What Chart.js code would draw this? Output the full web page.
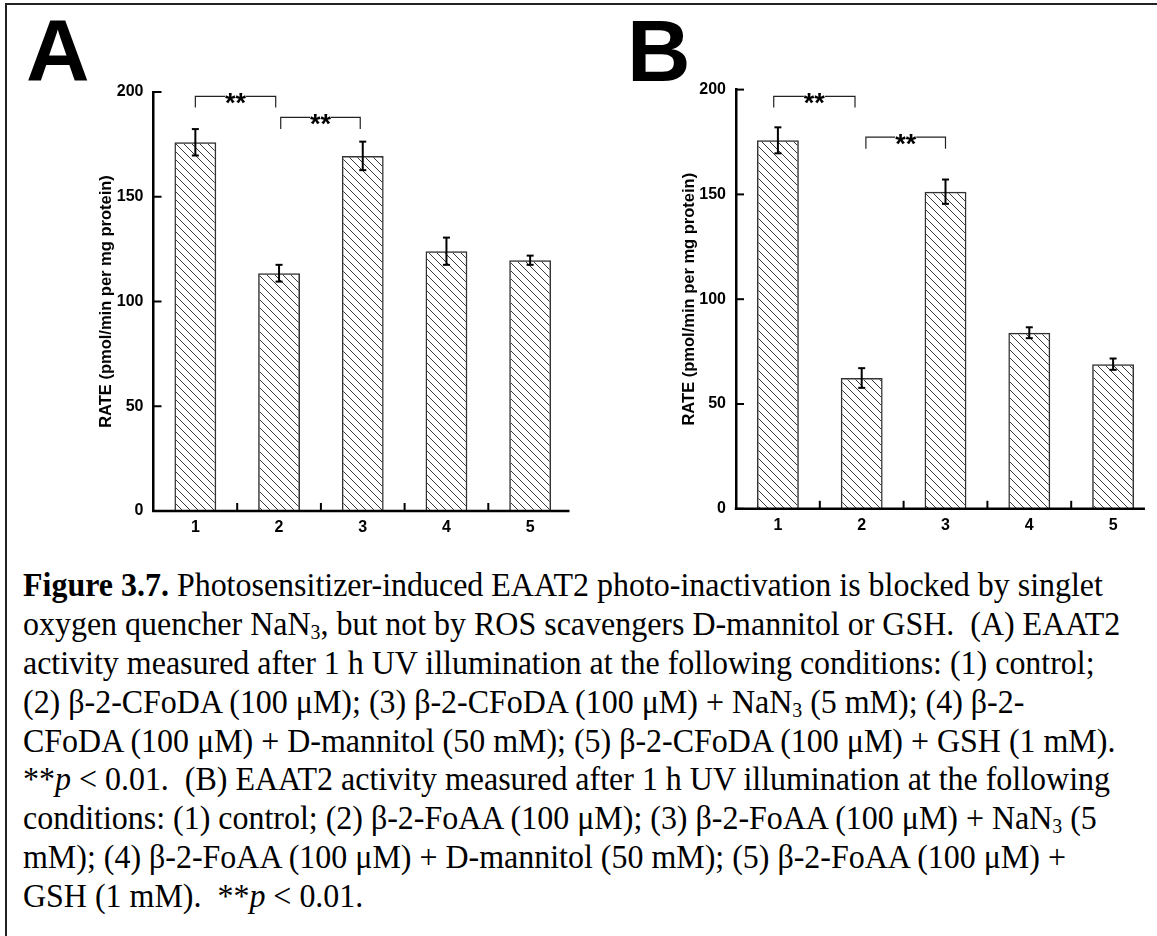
<!DOCTYPE html>
<html lang="en">
<head>
<meta charset="UTF-8">
<title>Figure 3.7 - EAAT2 photo-inactivation</title>
<script src="https://cdn.jsdelivr.net/npm/chart.js"></script>
<style>
    html, body {
        margin: 0;
        padding: 0;
        background: #fff;
    }

    .page {
        position: relative;
        width: 1157px;
        height: 936px;
        overflow: hidden;
        background: #fff;
    }

    .frame {
        position: absolute;
        left: 5px;
        top: 3px;
        width: 1200px;
        height: 1000px;
        border-top: 2px solid #222;
        border-left: 2px solid #222;
    }

    .panel-letter {
        position: absolute;
        font-family: "Liberation Sans", Arial, sans-serif;
        font-weight: bold;
        font-size: 88px;
        line-height: 1;
        color: #000;
    }

    canvas {
        position: absolute;
        top: 0;
    }

    .caption {
        position: absolute;
        left: 23px;
        top: 566px;
        font-family: "Liberation Serif", "Times New Roman", serif;
        font-size: 34px;
        line-height: 38.9px;
        color: #000;
        transform: scaleX(0.94);
        transform-origin: left top;
    }

    .caption div {
        white-space: pre;
        height: 38.9px;
    }

    .caption sub {
        font-size: 0.62em;
        vertical-align: -0.18em;
        line-height: 0;
    }
</style>
</head>
<body>
<div class="page">
    <div class="frame"></div>

    <div class="panel-letter" style="left:26px; top:6px;">A</div>
    <div class="panel-letter" style="left:627px; top:7px;">B</div>

    <canvas id="chartA" width="580" height="545" style="left:0;"></canvas>
    <canvas id="chartB" width="577" height="545" style="left:580px;"></canvas>

    <div class="caption">
        <div><b>Figure 3.7.</b> Photosensitizer-induced EAAT2 photo-inactivation is blocked by singlet</div>
        <div>oxygen quencher NaN<sub>3</sub>, but not by ROS scavengers D-mannitol or GSH.  (A) EAAT2</div>
        <div>activity measured after 1 h UV illumination at the following conditions: (1) control;</div>
        <div>(2) β-2-CFoDA (100 μM); (3) β-2-CFoDA (100 μM) + NaN<sub>3</sub> (5 mM); (4) β-2-</div>
        <div>CFoDA (100 μM) + D-mannitol (50 mM); (5) β-2-CFoDA (100 μM) + GSH (1 mM).</div>
        <div>**<i>p</i> &lt; 0.01.  (B) EAAT2 activity measured after 1 h UV illumination at the following</div>
        <div>conditions: (1) control; (2) β-2-FoAA (100 μM); (3) β-2-FoAA (100 μM) + NaN<sub>3</sub> (5</div>
        <div>mM); (4) β-2-FoAA (100 μM) + D-mannitol (50 mM); (5) β-2-FoAA (100 μM) +</div>
        <div>GSH (1 mM).  **<i>p</i> &lt; 0.01.</div>
    </div>
</div>

<script>
    const CATEGORIES = ['1', '2', '3', '4', '5'];
    const Y_TICKS = [0, 50, 100, 150, 200];
    const Y_TITLE = 'RATE (pmol/min per mg protein)';

    // panel A: beta-2-CFoDA
    const RATE_A = [176.0, 113.5, 169.5, 124.0, 119.7];
    const ERR_A = [6.3, 4.0, 6.8, 6.5, 2.2];

    // panel B: beta-2-FoAA
    const RATE_B = [175.8, 62.4, 151.3, 84.0, 69.0];
    const ERR_B = [6.2, 4.7, 5.8, 2.6, 2.7];

    // significance brackets: [from bar, to bar, top value, foot value]
    const SIG_A = [[0, 0.96, 197.9, 192.6], [1.02, 1.97, 187.9, 182.3]];
    const SIG_B = [[-0.05, 0.92, 196.8, 191.5], [1.05, 2.0, 177.3, 171.8]];
    const SIG_LABEL = '**';

    const FONT = '"Liberation Sans", Arial, sans-serif';
    Chart.defaults.font.family = FONT;
    Chart.defaults.color = '#000';

    // back-slash hatch fill for the bars
    function hatchPattern() {
        const size = 8;
        const c = document.createElement('canvas');
        c.width = size;
        c.height = size;
        const g = c.getContext('2d');
        g.strokeStyle = '#3a3a3a';
        g.lineWidth = 1;
        g.beginPath();
        g.moveTo(-1, -1); g.lineTo(size + 1, size + 1);
        g.moveTo(-1, size - 1); g.lineTo(1, size + 1);
        g.moveTo(size - 1, -1); g.lineTo(size + 1, 1);
        g.stroke();
        return g.createPattern(c, 'repeat');
    }

    // x axis line, error bars, inward tick marks and the ** brackets
    const extras = {
        id: 'extras',
        afterDatasetsDraw(chart, args, opts) {
            const { ctx, chartArea, scales: { x, y } } = chart;
            const values = chart.data.datasets[0].data;
            const bars = chart.getDatasetMeta(0).data;
            const seg = (x1, y1, x2, y2) => {
                ctx.beginPath();
                ctx.moveTo(x1, y1);
                ctx.lineTo(x2, y2);
                ctx.stroke();
            };

            ctx.save();
            ctx.strokeStyle = '#000';
            ctx.lineWidth = 2.5;
            seg(chartArea.left - 1.25, chartArea.bottom, x.getPixelForValue(opts.axisEnd), chartArea.bottom);

            ctx.lineWidth = 2;
            opts.errors.forEach((e, i) => {
                const cx = bars[i].x;
                const t = y.getPixelForValue(values[i] + e);
                const b = y.getPixelForValue(values[i] - e);
                seg(cx, t, cx, b);
                seg(cx - 3.5, t, cx + 3.5, t);
                seg(cx - 3.5, b, cx + 3.5, b);
            });

            Y_TICKS.forEach(v => {
                const py = y.getPixelForValue(v);
                seg(chartArea.left, py, chartArea.left + 8, py);
            });
            for (let i = 0; i < CATEGORIES.length - 1; i++) {
                const px = (x.getPixelForValue(i) + x.getPixelForValue(i + 1)) / 2;
                seg(px, chartArea.bottom, px, chartArea.bottom - 8);
            }

            ctx.strokeStyle = '#222';
            ctx.lineWidth = 1.2;
            ctx.fillStyle = '#000';
            ctx.font = 'bold 27px ' + FONT;
            ctx.textAlign = 'center';
            ctx.textBaseline = 'alphabetic';
            const lw = ctx.measureText(SIG_LABEL).width;
            opts.brackets.forEach(([a, b, top, foot]) => {
                const x1 = x.getPixelForValue(a);
                const x2 = x.getPixelForValue(b);
                const yt = y.getPixelForValue(top);
                const yf = y.getPixelForValue(foot);
                const mid = (x1 + x2) / 2;
                ctx.beginPath();
                ctx.moveTo(x1, yf);
                ctx.lineTo(x1, yt);
                ctx.lineTo(mid - lw / 2, yt);
                ctx.moveTo(mid + lw / 2, yt);
                ctx.lineTo(x2, yt);
                ctx.lineTo(x2, yf);
                ctx.stroke();
                ctx.fillText(SIG_LABEL, mid, yt + 15.5);
            });
            ctx.restore();
        }
    };

    function drawPanel(id, values, errors, brackets, pad, titlePad, axisEnd) {
        return new Chart(document.getElementById(id), {
            type: 'bar',
            data: {
                labels: CATEGORIES,
                datasets: [{
                    data: values,
                    backgroundColor: hatchPattern(),
                    borderColor: '#333',
                    borderWidth: 1.5,
                    categoryPercentage: 1,
                    barPercentage: 0.5
                }]
            },
            options: {
                responsive: false,
                animation: false,
                layout: { padding: pad },
                plugins: {
                    legend: { display: false },
                    tooltip: { enabled: false },
                    extras: { errors: errors, brackets: brackets, axisEnd: axisEnd }
                },
                scales: {
                    x: {
                        z: 1,
                        offset: true,
                        grid: { display: false, drawTicks: false },
                        border: { display: false },
                        ticks: { font: { size: 16, weight: 'bold' }, padding: 7 },
                        afterFit: s => { s.height = 30; }
                    },
                    y: {
                        z: 1,
                        min: 0,
                        max: 200,
                        grid: { display: false, drawTicks: false },
                        border: { display: true, color: '#000', width: 2.5 },
                        ticks: { stepSize: 50, font: { size: 16, weight: 'bold' }, padding: 10 },
                        title: {
                            display: true,
                            text: Y_TITLE,
                            font: { size: 16.5, weight: 'bold' },
                            padding: { top: titlePad, bottom: 0 }
                        },
                        afterFit: s => { s.width = 62; }
                    }
                }
            },
            plugins: [extras]
        });
    }

    drawPanel('chartA', RATE_A, ERR_A, SIG_A, { left: 91.5, top: 92, right: 8, bottom: 4 }, 5, 4.47);
    drawPanel('chartB', RATE_B, ERR_B, SIG_B, { left: 94, top: 89.6, right: 2, bottom: 6.2 }, 6, 4.38);
</script>
</body>
</html>
